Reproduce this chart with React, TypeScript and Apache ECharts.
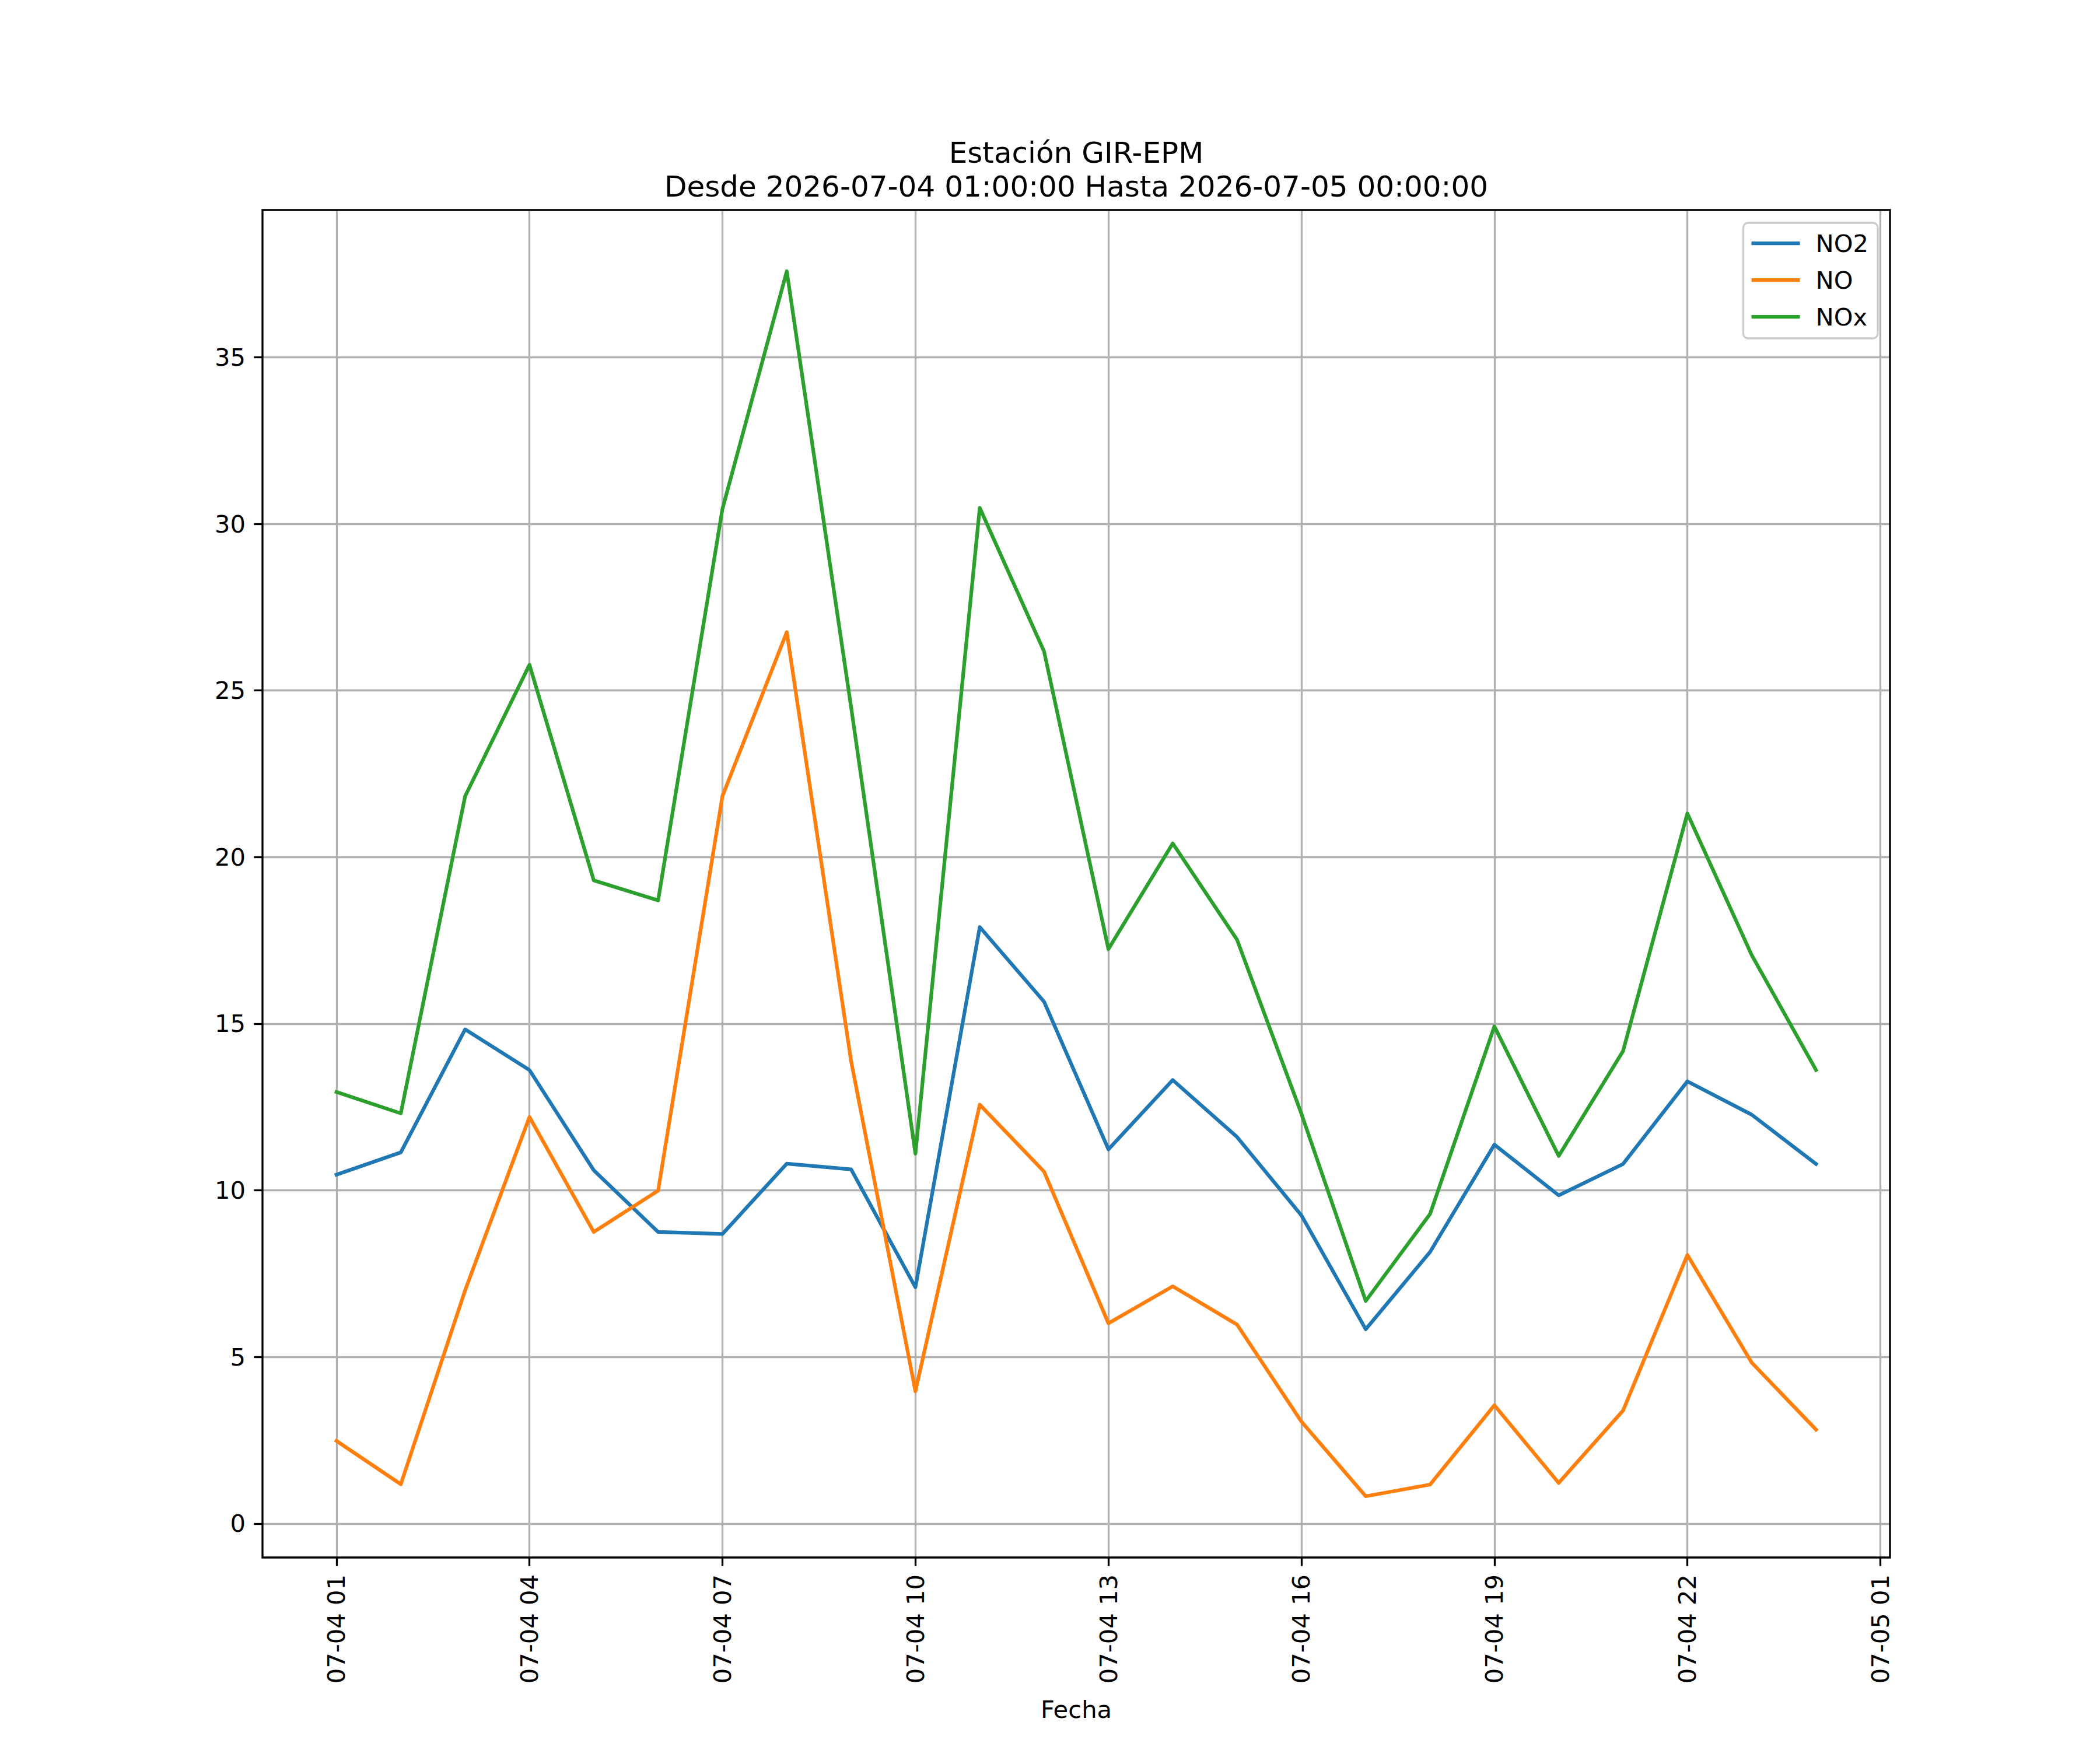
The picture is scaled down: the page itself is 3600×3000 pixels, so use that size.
import React, { useEffect, useRef } from "react";
import * as echarts from "echarts";

const times = [
  "2026-07-04 01:00", "2026-07-04 02:00", "2026-07-04 03:00", "2026-07-04 04:00",
  "2026-07-04 05:00", "2026-07-04 06:00", "2026-07-04 07:00", "2026-07-04 08:00",
  "2026-07-04 09:00", "2026-07-04 10:00", "2026-07-04 11:00", "2026-07-04 12:00",
  "2026-07-04 13:00", "2026-07-04 14:00", "2026-07-04 15:00", "2026-07-04 16:00",
  "2026-07-04 17:00", "2026-07-04 18:00", "2026-07-04 19:00", "2026-07-04 20:00",
  "2026-07-04 21:00", "2026-07-04 22:00", "2026-07-04 23:00", "2026-07-05 00:00",
];

const tickLabels = [
  "07-04 01", "07-04 04", "07-04 07", "07-04 10", "07-04 13",
  "07-04 16", "07-04 19", "07-04 22", "07-05 01",
];
const yTicks = [0, 5, 10, 15, 20, 25, 30, 35];

const no2 = [10.47, 11.14, 14.83, 13.61, 10.6, 8.75, 8.69, 10.8, 10.63, 7.09, 17.9, 15.66,
  11.23, 13.31, 11.6, 9.25, 5.83, 8.15, 11.37, 9.85, 10.79, 13.27, 12.27, 10.79];
const no = [2.48, 1.18, 7.0, 12.2, 8.75, 9.99, 21.83, 26.75, 13.88, 3.97, 12.57, 10.56,
  6.01, 7.12, 5.97, 3.06, 0.82, 1.17, 3.55, 1.22, 3.39, 8.06, 4.83, 2.82];
const nox = [12.95, 12.31, 21.83, 25.77, 19.3, 18.7, 30.45, 37.58, 24.5, 11.1, 30.48, 26.17,
  17.24, 20.41, 17.52, 12.3, 6.68, 9.29, 14.92, 11.03, 14.18, 21.31, 17.06, 13.61];

const seriesNames = ["NO2", "NO", "NOx"];
const seriesColors = ["#1f77b4", "#ff7f0e", "#2ca02c"];
const titleLines = ["Estación GIR-EPM", "Desde 2026-07-04 01:00:00 Hasta 2026-07-05 00:00:00"];
const xAxisTitle = "Fecha";

const FONT = "'DejaVu Sans', sans-serif";

export default function App() {
  const ref = useRef<HTMLDivElement>(null);

  useEffect(() => {
    document.body.style.margin = "0";
    const chart = echarts.init(ref.current!, undefined, { renderer: "svg" });

    const W = 3600;
    const gL = 450, gT = 360, gW = 2790, gH = 2310;
    const n = times.length;
    const xPad = (n - 1) * 0.05;
    const all = [...no2, ...no, ...nox];
    const dMin = Math.min(...all);
    const dMax = Math.max(...all);
    const yPad = (dMax - dMin) * 0.05;
    const xTickValues = tickLabels.map((_, k) => k * 3);

    const valuesBySeries = [no2, no, nox];
    const lw = 6.25;
    const thin = 3.33;

    const option: any = {
      animation: false,
      backgroundColor: "#ffffff",
      color: seriesColors,
      textStyle: { fontFamily: FONT },
      grid: { left: gL, top: gT, width: gW, height: gH, containLabel: false },
      xAxis: {
        type: "value",
        position: "bottom",
        min: -xPad,
        max: n - 1 + xPad,
        splitNumber: 8,
        axisLine: { show: false, onZero: false },
        axisTick: {
          show: true,
          inside: false,
          length: 14.6,
          customValues: xTickValues,
          lineStyle: { color: "#000", width: thin },
        },
        axisLabel: {
          customValues: xTickValues,
          rotate: 90,
          margin: 29,
          fontSize: 41.67,
          fontFamily: FONT,
          color: "#000",
          showMinLabel: true,
          showMaxLabel: true,
          hideOverlap: false,
          formatter: (v: number) => {
            const k = Math.round(v / 3);
            return Math.abs(v - k * 3) < 1e-6 && tickLabels[k] ? tickLabels[k] : "";
          },
        },
        splitLine: { show: true, lineStyle: { color: "#b0b0b0", width: thin } },
      },
      yAxis: {
        type: "value",
        position: "left",
        min: dMin - yPad,
        max: dMax + yPad,
        splitNumber: 8,
        axisLine: { show: false, onZero: false },
        axisTick: {
          show: true,
          inside: false,
          length: 14.6,
          customValues: yTicks,
          lineStyle: { color: "#000", width: thin },
        },
        axisLabel: {
          customValues: yTicks,
          margin: 29,
          fontSize: 41.67,
          fontFamily: FONT,
          color: "#000",
          showMinLabel: true,
          showMaxLabel: true,
          hideOverlap: false,
          formatter: (v: number) => (yTicks.indexOf(Math.round(v)) >= 0 && Math.abs(v - Math.round(v)) < 1e-6 ? String(Math.round(v)) : ""),
        },
        splitLine: { show: true, lineStyle: { color: "#b0b0b0", width: thin } },
      },
      legend: {
        data: seriesNames,
        orient: "vertical",
        right: W - 3219,
        top: 382,
        icon: "rect",
        itemWidth: 83,
        itemHeight: 6.25,
        itemGap: 17,
        padding: [12, 16, 14, 14],
        backgroundColor: "rgba(255,255,255,0.8)",
        borderColor: "#cccccc",
        borderWidth: thin,
        borderRadius: 8,
        z: 20,
        textStyle: {
          fontSize: 41.67,
          fontFamily: FONT,
          color: "#000",
          lineHeight: 46,
          padding: [0, 0, 0, 22],
        },
      },
      graphic: [
        {
          type: "rect",
          z: 10,
          silent: true,
          shape: { x: gL, y: gT, width: gW, height: gH },
          style: { fill: "none", stroke: "#000", lineWidth: thin },
        },
        {
          type: "text",
          x: gL + gW / 2,
          y: 262,
          style: { text: titleLines[0], fontSize: 50, fontFamily: FONT, fill: "#000", align: "center", verticalAlign: "middle" },
        },
        {
          type: "text",
          x: gL + gW / 2,
          y: 320,
          style: { text: titleLines[1], fontSize: 50, fontFamily: FONT, fill: "#000", align: "center", verticalAlign: "middle" },
        },
        {
          type: "text",
          x: gL + gW / 2,
          y: 2930,
          style: { text: xAxisTitle, fontSize: 41.67, fontFamily: FONT, fill: "#000", align: "center", verticalAlign: "middle" },
        },
      ],
      series: seriesNames.map((name, si) => ({
        name,
        type: "line",
        symbol: "none",
        showSymbol: false,
        data: valuesBySeries[si].map((v, i) => [i, v]),
        lineStyle: { width: lw, color: seriesColors[si], cap: "square", join: "round" },
        itemStyle: { color: seriesColors[si] },
      })),
    };

    chart.setOption(option);
    return () => chart.dispose();
  }, []);

  return <div ref={ref} style={{ width: 3600, height: 3000 }} />;
}
